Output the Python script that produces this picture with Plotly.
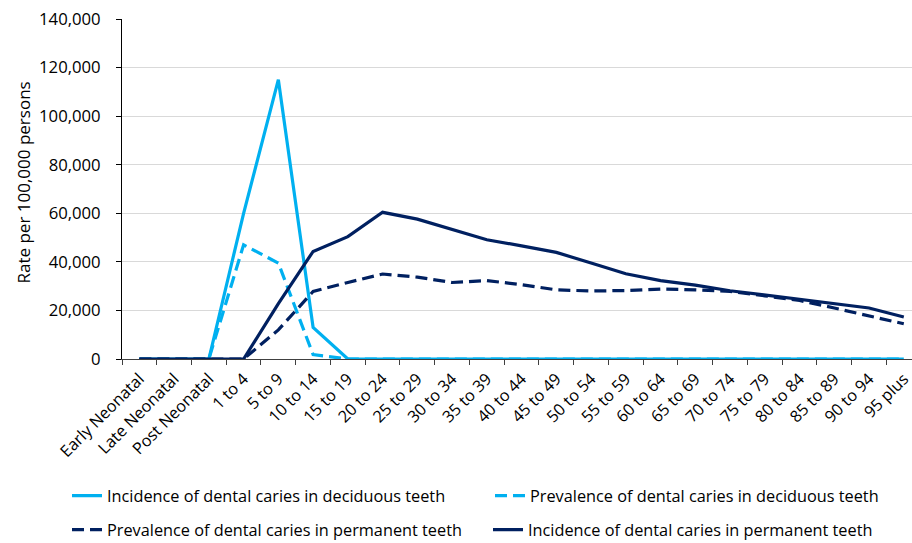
import plotly.graph_objects as go

categories = ["Early Neonatal", "Late Neonatal", "Post Neonatal", "1 to 4", "5 to 9",
              "10 to 14", "15 to 19", "20 to 24", "25 to 29", "30 to 34", "35 to 39",
              "40 to 44", "45 to 49", "50 to 54", "55 to 59", "60 to 64", "65 to 69",
              "70 to 74", "75 to 79", "80 to 84", "85 to 89", "90 to 94", "95 plus"]

incidence_deciduous = [0, 0, 0, 60000, 115000, 13000, 0, 0, 0, 0, 0, 0, 0, 0, 0, 0,
                       0, 0, 0, 0, 0, 0, 0]
prevalence_deciduous = [0, 0, 0, 47000, 39500, 1800, 0, 0, 0, 0, 0, 0, 0, 0, 0, 0,
                        0, 0, 0, 0, 0, 0, 0]
prevalence_permanent = [0, 0, 0, 0, 12000, 27800, 31500, 35000, 33700, 31500, 32300,
                        30600, 28500, 28000, 28200, 28800, 28500, 27800, 26000, 24100,
                        21000, 17800, 14500]
incidence_permanent = [0, 0, 0, 0, 22800, 44300, 50400, 60400, 57600, 53200, 49100,
                       46600, 43900, 39500, 35100, 32300, 30400, 28100, 26400, 24700,
                       23000, 21000, 17300]

LIGHT = "#00B0F0"
DARK = "#002060"
FONT = "Open Sans"
DASH = "12px,6px"

# plot area geometry (pixels)
L, T, B = 122, 19, 184
W, H = 912, 543
PW = W - L
PH = H - T - B
Y0 = H - B  # pixel row of the plot bottom


def px_x(x):
    return (x - L) / PW


def px_y(y):
    return (Y0 - y) / PH


fig = go.Figure()
fig.add_trace(go.Scatter(x=categories, y=incidence_deciduous, mode="lines",
                         name="Incidence of dental caries in deciduous teeth",
                         line=dict(color=LIGHT, width=3.2), legend="legend"))
fig.add_trace(go.Scatter(x=categories, y=prevalence_deciduous, mode="lines",
                         name="Prevalence of dental caries in deciduous teeth",
                         line=dict(color=LIGHT, width=3.2, dash=DASH), legend="legend2"))
fig.add_trace(go.Scatter(x=categories, y=prevalence_permanent, mode="lines",
                         name="Prevalence of dental caries in permanent teeth",
                         line=dict(color=DARK, width=3.2, dash=DASH), legend="legend3"))
fig.add_trace(go.Scatter(x=categories, y=incidence_permanent, mode="lines",
                         name="Incidence of dental caries in permanent teeth",
                         line=dict(color=DARK, width=3.2), legend="legend4"))

LEG_FONT = dict(family=FONT, size=16.3, color="#000000")


def leg(text_x, y_center):
    return dict(orientation="h", x=px_x(text_x - 40), y=px_y(y_center),
                xanchor="left", yanchor="middle", font=LEG_FONT,
                bgcolor="rgba(0,0,0,0)", borderwidth=0)


fig.update_layout(
    width=W, height=H,
    margin=dict(l=L, r=0, t=T, b=B, autoexpand=False),
    paper_bgcolor="white", plot_bgcolor="white",
    font=dict(family=FONT, size=16, color="#000000"),
    showlegend=True,
    legend=leg(107, 496),
    legend2=leg(530, 496),
    legend3=leg(107, 530),
    legend4=leg(528, 530),
    annotations=[dict(text="Rate per 100,000 persons", textangle=-90,
                      x=px_x(23), y=px_y(182.5), xref="paper", yref="paper",
                      xanchor="center", yanchor="middle", showarrow=False,
                      font=dict(family=FONT, size=17, color="#000000"))],
)
fig.update_xaxes(
    type="category", range=[-0.5, 22.236], automargin=False,
    showline=True, linecolor="#404040", linewidth=1,
    ticks="outside", tickson="boundaries", ticklen=5, tickcolor="#404040",
    tickangle=-45, showgrid=False, zeroline=False, ticklabelstandoff=3,
    tickfont=dict(family=FONT, size=16.3, color="#000000"),
)
fig.update_yaxes(
    range=[0, 140000], dtick=20000, tickformat=",", automargin=False,
    showline=True, linecolor="#000000", linewidth=1,
    ticks="outside", ticklen=5, tickcolor="#000000", ticklabelstandoff=12,
    showgrid=True, gridcolor="#D9D9D9", gridwidth=1, zeroline=False,
    tickfont=dict(family=FONT, size=16.7, color="#000000"),
)

fig.write_html("out.html",
               config={"displayModeBar": False},
               post_script="document.body.style.margin='0';"
                           "document.body.style.overflow='hidden';")
